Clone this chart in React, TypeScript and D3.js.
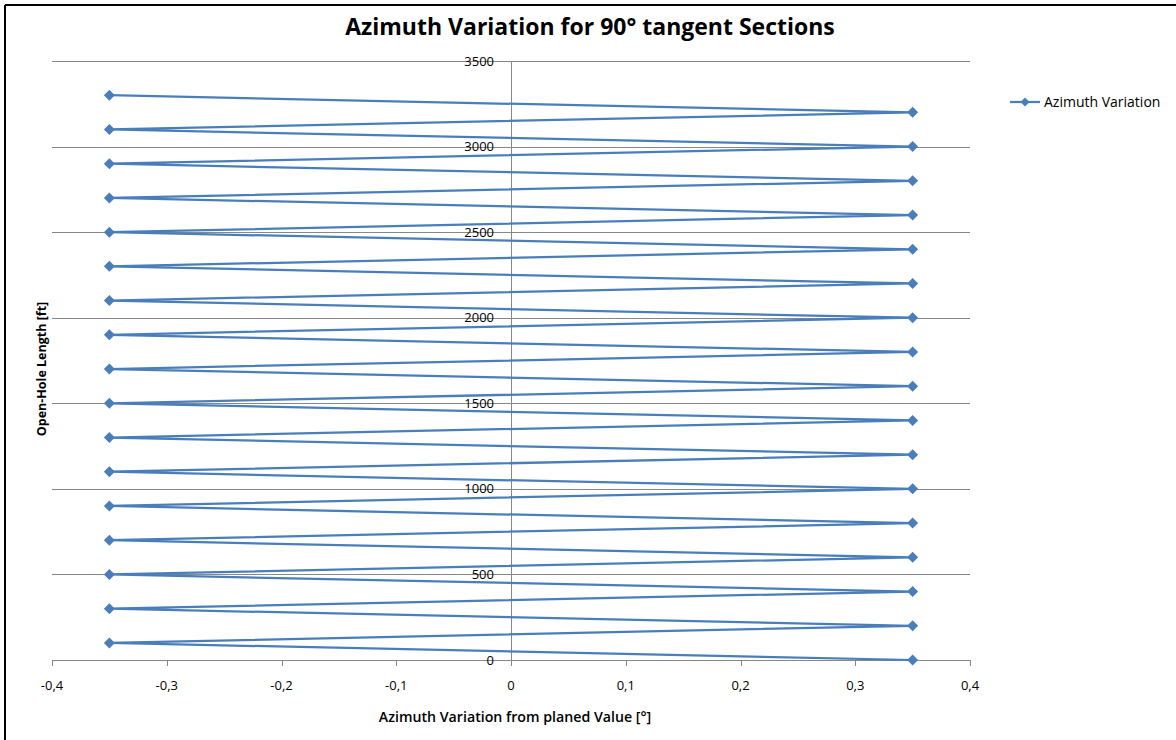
import React from "react";
import * as d3 from "d3";

// Open-hole length (ft) at each survey station
const depthFt = [
  0, 100, 200, 300, 400, 500, 600, 700, 800, 900, 1000, 1100, 1200, 1300, 1400, 1500, 1600,
  1700, 1800, 1900, 2000, 2100, 2200, 2300, 2400, 2500, 2600, 2700, 2800, 2900, 3000, 3100,
  3200, 3300,
];
// Azimuth deviation from planned value (°) at each station
const azimuthDev = [
  0.35, -0.35, 0.35, -0.35, 0.35, -0.35, 0.35, -0.35, 0.35, -0.35, 0.35, -0.35, 0.35, -0.35,
  0.35, -0.35, 0.35, -0.35, 0.35, -0.35, 0.35, -0.35, 0.35, -0.35, 0.35, -0.35, 0.35, -0.35,
  0.35, -0.35, 0.35, -0.35, 0.35, -0.35,
];
const xTicks = [-0.4, -0.3, -0.2, -0.1, 0, 0.1, 0.2, 0.3, 0.4];
const yTicks = [0, 500, 1000, 1500, 2000, 2500, 3000, 3500];

const seriesName = "Azimuth Variation";
const title = "Azimuth Variation for 90° tangent Sections";
const xTitle = "Azimuth Variation from planed Value [°]";
const yTitle = "Open-Hole Length [ft]";

const W = 1176;
const H = 740;
const plot = { left: 52, right: 970, top: 61, bottom: 660 };
const BLUE = "#4A7EBB";
const GRID = "#878787";
const FONT = "Open Sans, Liberation Sans, sans-serif";

// decimal comma, plain hyphen for negatives
const fmt = (v: number) =>
  v === 0 ? "0" : d3.format(".1f")(v).replace(".", ",").replace("\u2212", "-");

export default function App() {
  const x = d3.scaleLinear().domain([-0.4, 0.4]).range([plot.left, plot.right]);
  const y = d3.scaleLinear().domain([0, 3500]).range([plot.bottom, plot.top]);

  const pts: [number, number][] = depthFt.map((d, i) => [azimuthDev[i], d]);
  const line = d3
    .line<[number, number]>()
    .x((p) => x(p[0]))
    .y((p) => y(p[1]));

  const diamond = (cx: number, cy: number, r = 5.5) =>
    `M${cx},${cy - r}L${cx + r},${cy}L${cx},${cy + r}L${cx - r},${cy}Z`;

  return (
    <svg
      width={W}
      height={H}
      style={{ position: "absolute", left: 0, top: 0, display: "block", background: "#fff" }}
    >
      <rect x={0} y={0} width={W} height={H} fill="#fff" />
      {/* frame */}
      <line x1={5} y1={5} x2={W} y2={5} stroke="#000" strokeWidth={2} />
      <line x1={5} y1={5} x2={5} y2={H} stroke="#000" strokeWidth={2} />

      <text
        x={590}
        y={35}
        textAnchor="middle"
        fontFamily={FONT}
        fontWeight="bold"
        fontSize={23}
        fill="#000"
      >
        {title}
      </text>

      {/* horizontal gridlines */}
      {yTicks
        .filter((t) => t !== 0)
        .map((t) => (
          <line
            key={`g${t}`}
            x1={plot.left}
            x2={plot.right}
            y1={Math.round(y(t)) + 0.5}
            y2={Math.round(y(t)) + 0.5}
            stroke={GRID}
            strokeWidth={1}
          />
        ))}

      {/* x axis */}
      <line
        x1={plot.left}
        x2={plot.right}
        y1={plot.bottom + 0.5}
        y2={plot.bottom + 0.5}
        stroke={GRID}
        strokeWidth={1}
      />
      {xTicks.map((t) => (
        <g key={`x${t}`}>
          <line
            x1={Math.round(x(t)) + 0.5}
            x2={Math.round(x(t)) + 0.5}
            y1={plot.bottom}
            y2={plot.bottom + 6}
            stroke={GRID}
            strokeWidth={1}
          />
          <text
            x={x(t)}
            y={690}
            textAnchor="middle"
            fontFamily={FONT}
            fontSize={13}
            fill="#000"
          >
            {fmt(t)}
          </text>
        </g>
      ))}

      {/* y axis at x = 0 */}
      <line
        x1={Math.round(x(0)) + 0.5}
        x2={Math.round(x(0)) + 0.5}
        y1={plot.top}
        y2={plot.bottom}
        stroke={GRID}
        strokeWidth={1}
      />
      {yTicks.map((t) => (
        <text
          key={`y${t}`}
          x={494}
          y={y(t) + 4.5}
          textAnchor="end"
          fontFamily={FONT}
          fontSize={13}
          fill="#000"
        >
          {t}
        </text>
      ))}

      {/* series */}
      <path d={line(pts) ?? ""} fill="none" stroke={BLUE} strokeWidth={2.25} strokeLinejoin="round" />
      {pts.map((p, i) => (
        <path key={`m${i}`} d={diamond(x(p[0]), y(p[1]))} fill={BLUE} />
      ))}

      {/* axis titles */}
      <text
        x={515}
        y={722}
        textAnchor="middle"
        fontFamily={FONT}
        fontWeight={600}
        fontSize={14.2}
        fill="#000"
      >
        {xTitle}
      </text>
      <text
        transform="translate(46,369) rotate(-90)"
        textAnchor="middle"
        fontFamily={FONT}
        fontWeight="bold"
        fontSize={12.5}
        fill="#000"
      >
        {yTitle}
      </text>

      {/* legend */}
      <line x1={1010} x2={1040} y1={102} y2={102} stroke={BLUE} strokeWidth={2.25} />
      <path d={diamond(1025, 102, 4.5)} fill={BLUE} />
      <text x={1044} y={107} fontFamily={FONT} fontSize={14} fill="#000">
        {seriesName}
      </text>
    </svg>
  );
}
